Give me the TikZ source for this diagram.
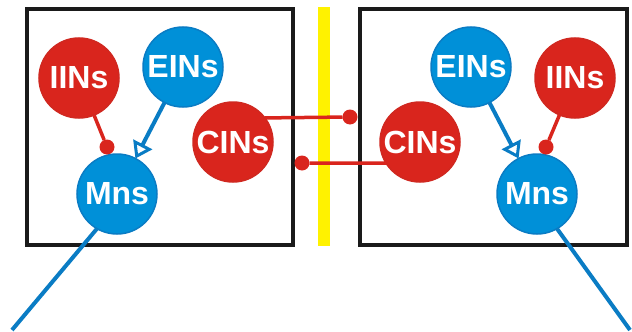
\documentclass[tikz,border=0pt]{standalone}
\usepackage{fontspec}
\setmainfont{Liberation Sans}
\usetikzlibrary{arrows.meta}
\definecolor{cred}{HTML}{D9251D}
\definecolor{credline}{HTML}{D02820}
\definecolor{cblue}{HTML}{0090D8}
\definecolor{cblueline}{HTML}{0A7CC4}
\definecolor{cbox}{HTML}{1A1A1A}
\definecolor{cyel}{HTML}{FFF200}
\begin{document}
\begin{tikzpicture}[x=1pt,y=-1pt,
  cell/.style={circle,minimum size=80pt,inner sep=0pt,outer sep=0pt,line width=1.5pt,text=white,font=\fontsize{32}{32}\selectfont\bfseries},
  redcell/.style={cell,fill=cred,draw=credline},
  bluecell/.style={cell,fill=cblue,draw=cblueline},
  dotnode/.style={circle,fill=cred,minimum size=15pt,inner sep=0pt,outer sep=0pt},
  panel/.style={draw=cbox,line width=4pt},
  redline/.style={draw=cred,line width=3.5pt},
  blueline/.style={draw=cblueline,line width=4pt},
  excite/.style={blueline,-{Triangle[open,length=16pt,width=21pt,line width=3pt]}}
]
\useasboundingbox (0,0) rectangle (632,332);
% panels and midline
\draw[panel] (27,9) rectangle (293,245);
\draw[panel] (360,9) rectangle (627,245);
\fill[cyel] (318,7) rectangle (330,246);
% left cells
\node[redcell]  (li) at (79,78)   {IINs};
\node[bluecell] (le) at (183,67)  {EINs};
\node[redcell]  (lc) at (233,142) {CINs};
\node[bluecell] (lm) at (117,194) {Mns};
% right cells
\node[bluecell] (re) at (471,67)  {EINs};
\node[redcell]  (ri) at (575,78)  {IINs};
\node[redcell]  (rc) at (420,142) {CINs};
\node[bluecell] (rm) at (537,194) {Mns};
% dots
\node[dotnode] (ldot) at (107,147) {};
\node[dotnode] (rdot) at (546,147) {};
\node[dotnode] (xr) at (350,117) {};
\node[dotnode] (xl) at (302,163) {};
% free ends
\coordinate (lout) at (12,330);
\coordinate (rout) at (630,330);
% connectors
\draw[redline] (li) -- (ldot);
\draw[redline] (ri) -- (rdot);
\draw[redline] (lc.37) -- (xr);
\draw[redline] (rc.212) -- (xl);
\draw[excite] (le) -- (lm);
\draw[excite] (re) -- (rm);
\draw[blueline] (lm.240) -- (lout);
\draw[blueline] (rm.300) -- (rout);
\end{tikzpicture}
\end{document}
